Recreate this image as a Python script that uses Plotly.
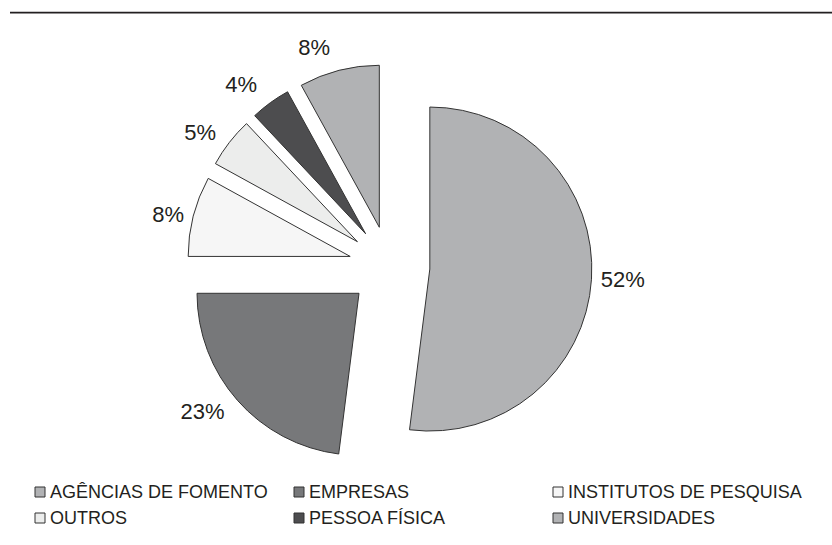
import plotly.graph_objects as go

labels = ["AGÊNCIAS DE FOMENTO", "EMPRESAS", "INSTITUTOS DE PESQUISA",
          "OUTROS", "PESSOA FÍSICA", "UNIVERSIDADES"]
values = [52, 23, 8, 5, 4, 8]
text_labels = ["52%", "23%", "8%", "5%", "4%", "8%"]
colors = ["#b1b2b4", "#77787a", "#f6f6f6", "#ecedec", "#4d4d4f", "#b1b2b4"]

W, H = 832, 545
ink = "#231f20"
font_family = "Liberation Sans, Arial, Helvetica, sans-serif"

# pie geometry (pixels)
cx, cy, r = 389.4, 266.5, 162.0
pull_px = 40.5                       # every slice is exploded by the same distance
label_gap_px = [3, 9, 3, 9, 12, 11]  # extra radial distance of each outside label


def domain_for(max_pull_frac):
    half = r * (1 + max_pull_frac)
    return dict(x=[(cx - half) / W, (cx + half) / W],
                y=[(H - (cy + half)) / H, (H - (cy - half)) / H])


slice_pull = [pull_px / r] * len(values)
label_pull = [(pull_px + g) / r for g in label_gap_px]

# the exploded pie itself
pie = go.Pie(
    labels=labels, values=values,
    textinfo="none", sort=False, direction="clockwise", rotation=0,
    pull=slice_pull, automargin=False,
    marker=dict(colors=colors, line=dict(color="#333333", width=1)),
    domain=domain_for(max(slice_pull)),
    showlegend=False, hoverinfo="label+percent",
)

# same pie, invisible, only carrying the outside percentage labels
label_pie = go.Pie(
    labels=labels, values=values, text=text_labels,
    textinfo="text", textposition="outside",
    sort=False, direction="clockwise", rotation=0,
    pull=label_pull, automargin=False,
    marker=dict(colors=["rgba(0,0,0,0)"] * len(values), line=dict(width=0)),
    outsidetextfont=dict(family=font_family, size=22, color=ink),
    domain=domain_for(max(label_pull)),
    showlegend=False, hoverinfo="skip",
)

fig = go.Figure([pie, label_pie])

# legend drawn as annotations + shapes (3 columns x 2 rows)
col_x = [35, 294, 553]
row_y = [492, 518]
box = 10
shapes = [dict(type="line", xref="paper", yref="paper",
               x0=10 / W, x1=1, y0=1 - 12.7 / H, y1=1 - 12.7 / H,
               line=dict(color=ink, width=1.7))]
annotations = []
for i, (lab, col) in enumerate(zip(labels, colors)):
    x = col_x[i % 3]
    y = row_y[i // 3]
    shapes.append(dict(type="rect", xref="paper", yref="paper",
                       x0=x / W, x1=(x + box) / W,
                       y0=1 - (y + box / 2) / H, y1=1 - (y - box / 2) / H,
                       fillcolor=col, line=dict(color="#333333", width=1)))
    annotations.append(dict(text=lab, xref="paper", yref="paper",
                            x=(x + box + 3) / W, y=1 - y / H,
                            xanchor="left", yanchor="middle", showarrow=False,
                            font=dict(family=font_family, size=18, color=ink)))

fig.update_layout(
    width=W, height=H,
    margin=dict(l=0, r=0, t=0, b=0, autoexpand=False),
    paper_bgcolor="white", plot_bgcolor="white",
    shapes=shapes, annotations=annotations,
)

fig.write_html("out.html")
